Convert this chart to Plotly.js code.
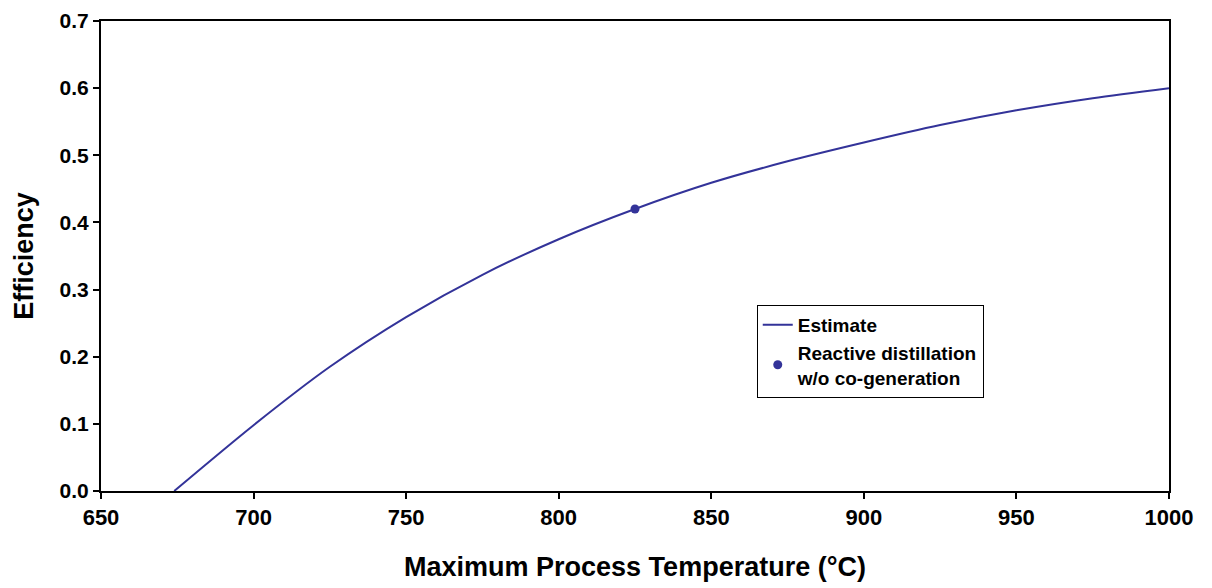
<!DOCTYPE html>
<html>
<head>
<meta charset="utf-8">
<script src="https://cdn.plot.ly/plotly-3.0.1.min.js"></script>
<style>
html,body{margin:0;padding:0;background:#fff;}
#chart{width:1212px;height:588px;}
</style>
</head>
<body>
<div id="chart"></div>
<script>
// Estimate curve (temperature in °C, efficiency)
const estimateTemp = [674, 700, 725, 750, 775, 800, 825, 850, 875, 900, 925, 950, 975, 1000];
const estimateEff  = [0.0, 0.098, 0.185, 0.259, 0.322, 0.375, 0.420, 0.459, 0.491, 0.519, 0.545, 0.567, 0.585, 0.600];

// Reactive distillation point
const pointTemp = [825];
const pointEff  = [0.42];

const seriesNames = ["Estimate", "Reactive distillation<br>w/o co-generation"];
const xTitle = "Maximum Process Temperature (°C)";
const yTitle = "Efficiency";

const FONT = "'Liberation Sans', Arial, sans-serif";
const BLUE = "#333399";

const traces = [
  {x: estimateTemp, y: estimateEff, type: "scatter", mode: "lines", name: seriesNames[0],
   line: {color: BLUE, width: 2, shape: "spline", smoothing: 0.8}},
  {x: pointTemp, y: pointEff, type: "scatter", mode: "markers", name: seriesNames[1],
   marker: {color: BLUE, size: 9}}
];

const layout = {
  width: 1212, height: 588,
  margin: {l: 101, r: 43, t: 21, b: 97},
  paper_bgcolor: "#fff", plot_bgcolor: "#fff",
  showlegend: true,
  font: {family: FONT, color: "#000", weight: "bold"},
  xaxis: {
    range: [650, 1000], dtick: 50, tick0: 650,
    showgrid: false, zeroline: false,
    showline: true, linecolor: "#000", linewidth: 2, mirror: true,
    ticks: "outside", ticklen: 6, tickwidth: 2, tickcolor: "#000",
    tickfont: {family: FONT, size: 22, weight: "bold", color: "#000"},
    title: {text: xTitle, font: {family: FONT, size: 27, weight: "bold", color: "#000"}, standoff: 28}
  },
  yaxis: {
    range: [0, 0.7], dtick: 0.1, tick0: 0, tickformat: ".1f",
    showgrid: false, zeroline: false,
    showline: true, linecolor: "#000", linewidth: 2, mirror: true,
    ticks: "outside", ticklen: 6, tickwidth: 2, tickcolor: "#000",
    tickfont: {family: FONT, size: 21, weight: "bold", color: "#000"},
    title: {text: yTitle, font: {family: FONT, size: 27, weight: "bold", color: "#000"}, standoff: 18}
  },
  legend: {
    x: 0.614, y: 0.396, xanchor: "left", yanchor: "top",
    bgcolor: "#fff", bordercolor: "#000", borderwidth: 1,
    font: {family: FONT, size: 19, weight: "bold", color: "#000"},
    tracegroupgap: 2, itemwidth: 30
  }
};

Plotly.newPlot("chart", traces, layout, {displayModeBar: false, staticPlot: true});
</script>
</body>
</html>
